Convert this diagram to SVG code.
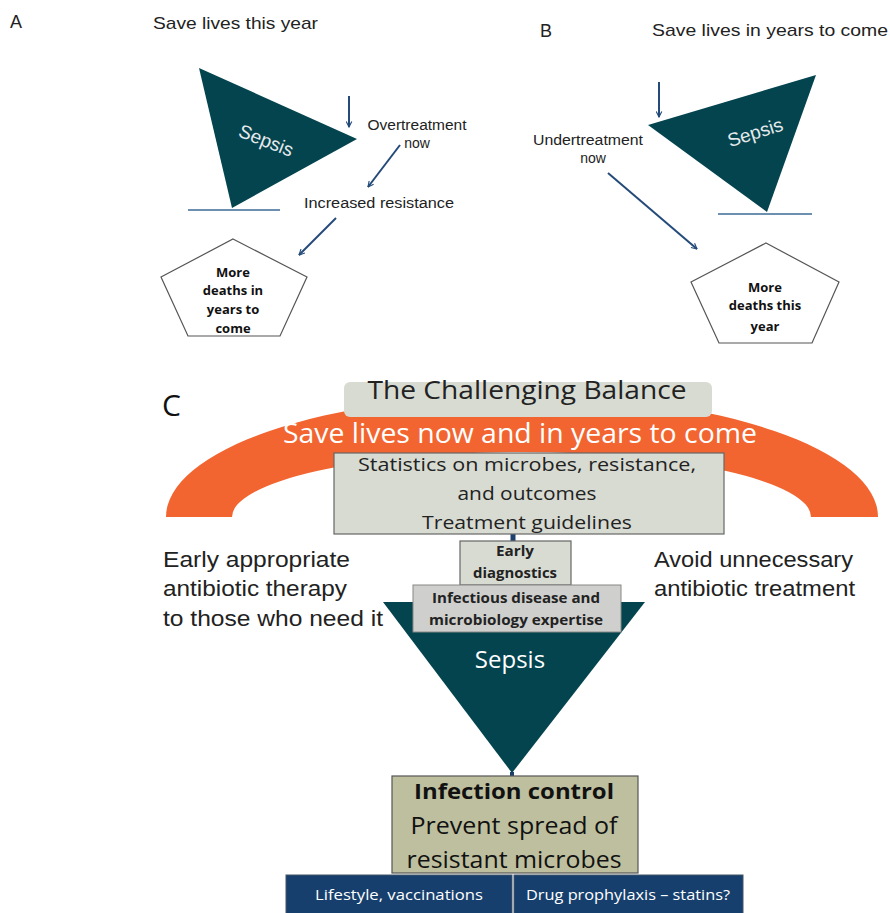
<svg xmlns="http://www.w3.org/2000/svg" width="890" height="913" viewBox="0 0 890 913">
<defs>
<style>
.lbl{font-family:"Liberation Sans",Arial,sans-serif;fill:#222}
.cal{font-family:"Open Sans","Liberation Sans",sans-serif}
.tri{fill:#03444f}
.base{stroke:#3d6a96;stroke-width:1.5}
.arr{stroke:#244a7a;stroke-width:2;fill:none;marker-end:url(#ah)}
.pent{fill:#fff;stroke:#555;stroke-width:1.2}
.pt{font-family:"Open Sans","Liberation Sans",sans-serif;font-weight:bold;font-size:13px;fill:#111;text-anchor:middle}
.box{fill:#d8dbd2;stroke:#666;stroke-width:1.2}
.wt{fill:#fff}
</style>
<marker id="ah" viewBox="0 0 10 10" refX="9" refY="5" markerWidth="7" markerHeight="7" orient="auto" markerUnits="userSpaceOnUse">
<path d="M1,1 L9,5 L1,9" fill="none" stroke="#244a7a" stroke-width="1.6"/>
</marker>
</defs>
<rect width="890" height="913" fill="#fff"/>

<g id="panelA">
<text class="lbl" x="10" y="28" font-size="18">A</text>
<text class="lbl" x="153" y="29" font-size="17" textLength="165" lengthAdjust="spacingAndGlyphs">Save lives this year</text>
<g id="sepsisA">
<polygon class="tri" points="199,68 357,139 232,208"/>
<text class="lbl" x="266" y="147" font-size="19" fill="#e8ecee" style="fill:#e6eaec" text-anchor="middle" transform="rotate(21.6 266 141)">Sepsis</text>
<line class="base" x1="188" y1="210" x2="280" y2="210"/>
</g>
<g id="overtreat">
<text class="lbl" x="417" y="130" font-size="14" text-anchor="middle" textLength="99" lengthAdjust="spacingAndGlyphs">Overtreatment</text>
<text class="lbl" x="417" y="148" font-size="14" text-anchor="middle">now</text>
</g>
<g id="resistance">
<text class="lbl" x="379" y="208" font-size="14" text-anchor="middle" textLength="150" lengthAdjust="spacingAndGlyphs">Increased resistance</text>
</g>
<g id="deathsA">
<polygon class="pent" points="233,239 307,277 280,336 188,336 161,277"/>
<text class="pt" x="233" y="277">More</text>
<text class="pt" x="233" y="295">deaths in</text>
<text class="pt" x="233" y="314">years to</text>
<text class="pt" x="233" y="333">come</text>
</g>
</g>

<g id="panelB">
<text class="lbl" x="540" y="37" font-size="18">B</text>
<text class="lbl" x="652" y="36" font-size="17" textLength="236" lengthAdjust="spacingAndGlyphs">Save lives in years to come</text>
<g id="sepsisB">
<polygon class="tri" points="648,125 816,75 767,212"/>
<text class="lbl" x="755" y="139" font-size="19" style="fill:#e6eaec" text-anchor="middle" transform="rotate(-17.6 755 132)">Sepsis</text>
<line class="base" x1="718" y1="214" x2="812" y2="214"/>
</g>
<g id="undertreat">
<text class="lbl" x="588" y="145" font-size="14" text-anchor="middle" textLength="110" lengthAdjust="spacingAndGlyphs">Undertreatment</text>
<text class="lbl" x="593" y="163" font-size="14" text-anchor="middle">now</text>
</g>
<g id="deathsB">
<polygon class="pent" points="766,243 839,282 812,343 719,343 691,282"/>
<text class="pt" x="765" y="292">More</text>
<text class="pt" x="765" y="310">deaths this</text>
<text class="pt" x="765" y="331">year</text>
</g>
</g>

<g id="connectors">
<line class="arr" x1="349" y1="96" x2="349" y2="127"/>
<line class="arr" x1="400" y1="145" x2="368" y2="187"/>
<line class="arr" x1="336" y1="218" x2="299" y2="255"/>
<line class="arr" x1="659" y1="82" x2="659" y2="117"/>
<line class="arr" x1="608" y1="173" x2="697" y2="249"/>
<line x1="513" y1="534" x2="513" y2="541" stroke="#1d3f6e" stroke-width="5"/>
<line x1="512" y1="772" x2="512" y2="777" stroke="#1d3f6e" stroke-width="4"/>
</g>

<g id="panelC">
<text class="cal" x="162" y="416" font-size="30" fill="#111">C</text>
<g id="arch">
<path d="M166,517 A356,122 0 0 1 878,517 L811,517 A289.5,65 0 0 0 232,517 Z" fill="#f26531"/>
<text class="cal wt" x="520" y="443" font-size="27" text-anchor="middle" textLength="474" lengthAdjust="spacingAndGlyphs">Save lives now and in years to come</text>
</g>
<g id="title">
<rect x="344" y="382" width="368" height="35" rx="6" fill="#d8dbd2"/>
<text class="cal" x="527" y="399" font-size="26" fill="#222" text-anchor="middle" textLength="319" lengthAdjust="spacingAndGlyphs">The Challenging Balance</text>
</g>
<g id="stats">
<rect class="box" x="334" y="453" width="390" height="81"/>
<text class="cal" x="527" y="471" font-size="19" fill="#222" text-anchor="middle" textLength="338" lengthAdjust="spacingAndGlyphs">Statistics on microbes, resistance,</text>
<text class="cal" x="527" y="500" font-size="19" fill="#222" text-anchor="middle" textLength="139" lengthAdjust="spacingAndGlyphs">and outcomes</text>
<text class="cal" x="527" y="529" font-size="19" fill="#222" text-anchor="middle" textLength="210" lengthAdjust="spacingAndGlyphs">Treatment guidelines</text>
</g>
<g id="sepsisC">
<polygon class="tri" points="383,602 645,602 512,773"/>
<text class="cal wt" x="510" y="668" font-size="24" text-anchor="middle">Sepsis</text>
</g>
<g id="early">
<rect class="box" x="460" y="541" width="111" height="44"/>
<text class="cal" x="515" y="556" font-size="13.5" font-weight="bold" fill="#222" text-anchor="middle" textLength="38" lengthAdjust="spacingAndGlyphs">Early</text>
<text class="cal" x="515" y="578" font-size="13.5" font-weight="bold" fill="#222" text-anchor="middle" textLength="84" lengthAdjust="spacingAndGlyphs">diagnostics</text>
</g>
<g id="expertise">
<rect x="413" y="585" width="208" height="47" fill="#cfcfcd" stroke="#888" stroke-width="1"/>
<text class="cal" x="516" y="603" font-size="13.5" font-weight="bold" fill="#222" text-anchor="middle" textLength="168" lengthAdjust="spacingAndGlyphs">Infectious disease and</text>
<text class="cal" x="516" y="625" font-size="13.5" font-weight="bold" fill="#222" text-anchor="middle" textLength="174" lengthAdjust="spacingAndGlyphs">microbiology expertise</text>
</g>
<g id="earlyTherapy">
<text class="lbl" x="163" y="567" font-size="22" textLength="187" lengthAdjust="spacingAndGlyphs">Early appropriate</text>
<text class="lbl" x="163" y="596" font-size="22" textLength="184" lengthAdjust="spacingAndGlyphs">antibiotic therapy</text>
<text class="lbl" x="163" y="626" font-size="22" textLength="220" lengthAdjust="spacingAndGlyphs">to those who need it</text>
</g>
<g id="avoid">
<text class="lbl" x="654" y="567" font-size="22" textLength="199" lengthAdjust="spacingAndGlyphs">Avoid unnecessary</text>
<text class="lbl" x="654" y="596" font-size="22" textLength="201" lengthAdjust="spacingAndGlyphs">antibiotic treatment</text>
</g>
<g id="infection">
<rect x="392" y="776" width="246" height="97" fill="#bdbf9f" stroke="#555" stroke-width="1.2"/>
<text class="cal" x="514" y="799" font-size="22" font-weight="bold" fill="#111" text-anchor="middle" textLength="200" lengthAdjust="spacingAndGlyphs">Infection control</text>
<text class="cal" x="514" y="834" font-size="24" fill="#111" text-anchor="middle" textLength="207" lengthAdjust="spacingAndGlyphs">Prevent spread of</text>
<text class="cal" x="514" y="868" font-size="24" fill="#111" text-anchor="middle" textLength="215" lengthAdjust="spacingAndGlyphs">resistant microbes</text>
</g>
<g id="lifestyle">
<rect x="286" y="875" width="226" height="40" fill="#173f6d" stroke="#456" stroke-width="1"/>
<text class="cal wt" x="399" y="900" font-size="15" text-anchor="middle" textLength="168" lengthAdjust="spacingAndGlyphs">Lifestyle, vaccinations</text>
</g>
<g id="drug">
<rect x="514" y="875" width="229" height="40" fill="#173f6d" stroke="#456" stroke-width="1"/>
<text class="cal wt" x="628" y="900" font-size="15" text-anchor="middle" textLength="204" lengthAdjust="spacingAndGlyphs">Drug prophylaxis – statins?</text>
</g>
</g>
</svg>
